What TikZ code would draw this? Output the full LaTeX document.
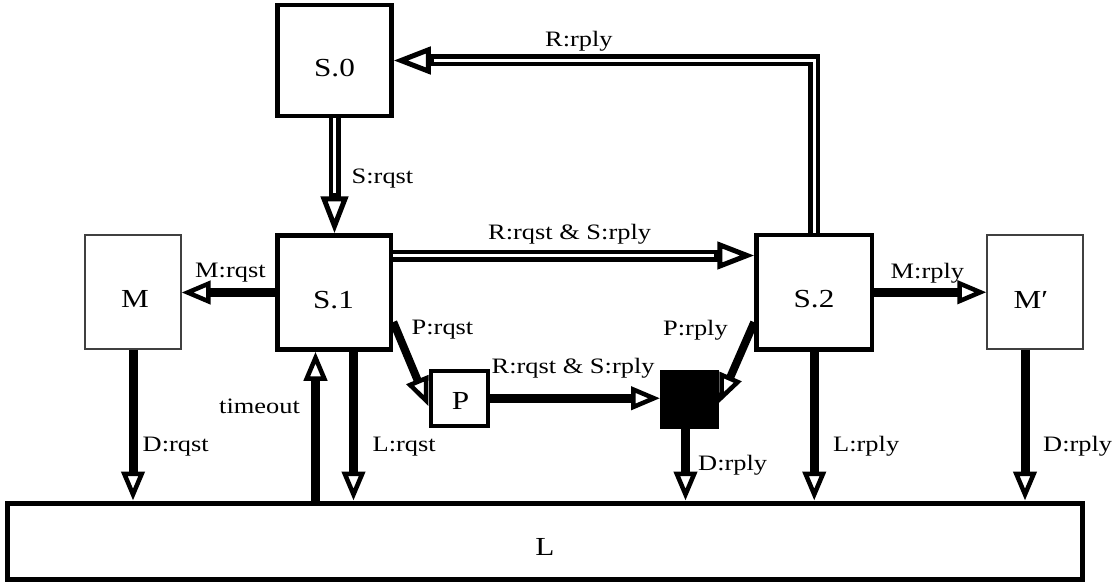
\documentclass[tikz,border=0pt]{standalone}
\usepackage{fontspec}
\setmainfont{Liberation Serif}[FakeStretch=1.2]
\usetikzlibrary{arrows.meta,calc}
\begin{document}
\begin{tikzpicture}[x=1pt,y=-1pt,
  sbox/.style={draw, line width=4.5pt, inner sep=0pt},
  tbox/.style={draw=black!75, line width=1.2pt, inner sep=0pt},
  thk/.style={line width=9pt, -{Triangle[fill=white, line width=4.5pt 0, length=29pt 0, width=23pt 0]}},
  dbl/.style={line width=12pt, line join=miter, -{Triangle[fill=white, line width=5pt 0, length=37pt 0, width=27pt 0]}},
  dblcore/.style={draw=white, line width=3.4pt, line join=miter, shorten >=40pt},
  lbl/.style={inner sep=0pt, anchor=base west, font=\fontsize{22}{24}\selectfont},
  boxlbl/.style={inner sep=0pt, anchor=base, font=\fontsize{26}{28}\selectfont}
]
\useasboundingbox (0,0) rectangle (1119,583);

% boxes
\node[sbox, minimum width=114pt, minimum height=111pt] (s0) at (334.5,60.5) {};
\node[sbox, minimum width=113.5pt, minimum height=114pt] (s1) at (334.25,292.5) {};
\node[sbox, minimum width=115.5pt, minimum height=114.5pt] (s2) at (814.25,292.25) {};
\node[tbox, minimum width=96pt, minimum height=114pt] (m) at (133,292) {};
\node[tbox, minimum width=96pt, minimum height=114pt] (mp) at (1035,292) {};
\node[sbox, line width=4pt, minimum width=57.5pt, minimum height=55.5pt] (p) at (459.25,398.25) {};
\node[draw, fill=black, line width=4pt, inner sep=0pt, minimum width=55pt, minimum height=55pt] (b) at (689.5,399.5) {};
\node[draw, line width=5pt, inner sep=0pt, minimum width=1074.5pt, minimum height=76.5pt] (L) at (544.75,541.25) {};

% box labels
\node[boxlbl] (s0t) at (334.5,77) {S.0};
\node[boxlbl] (s1t) at (333.5,308) {S.1};
\node[boxlbl] (s2t) at (814,307) {S.2};
\node[boxlbl] (mt) at (135,307) {M};
\node[boxlbl] (mpt) at (1031,308) {M′};
\node[boxlbl] (pt) at (460.5,409) {P};
\node[boxlbl] (Lt) at (545,555) {L};

% helper coordinates
\coordinate (r1) at ([yshift=37pt]s1.east);
\coordinate (t1) at ([xshift=-18.75pt]s1.south);
\coordinate (l1) at ([xshift=19.25pt]s1.south);
\coordinate (pq) at ([yshift=-29.5pt]s1.east);
\coordinate (pe) at ([yshift=-8pt]p.west);
\coordinate (pr) at ([yshift=-30pt]s2.west);
\coordinate (be) at ([yshift=-3.5pt]b.east);
\coordinate (bd) at ([xshift=-4pt]b.south);
\coordinate (md) at ([xshift=-10pt]mp.south);

% double connectors
\draw[dbl] (s0.south) -- (s0.south |- s1.north);
\draw[dblcore] (s0.south) -- (s0.south |- s1.north);
\draw[dbl] (s2.north) |- (s0.east);
\draw[dblcore] (s2.north) |- (s0.east);
\draw[dbl] (r1) -- (r1 -| s2.west);
\draw[dblcore] (r1) -- (r1 -| s2.west);

% thick connectors
\draw[thk] (s1.west) -- (s1.west -| m.east);
\draw[thk] (s2.east) -- (s2.east -| mp.west);
\draw[thk] (m.south) -- (m.south |- L.north);
\draw[thk] (t1 |- L.north) -- (t1);
\draw[thk] (l1) -- (l1 |- L.north);
\draw[thk, line width=8pt] (pq) -- (pe);
\draw[thk] (p.east) -- (p.east -| b.west);
\draw[thk, line width=8pt] (pr) -- (be);
\draw[thk] (bd) -- (bd |- L.north);
\draw[thk] (s2.south) -- (s2.south |- L.north);
\draw[thk] (md) -- (md |- L.north);

% connector labels
\node[lbl] (la) at (351.5,183) {S:rqst};
\node[lbl] (lb) at (545,47) {R:rply};
\node[lbl] (lc) at (488,239) {R:rqst \& S:rply};
\node[lbl] (ld) at (195,277) {M:rqst};
\node[lbl] (le) at (219,413) {timeout};
\node[lbl] (lf) at (142.5,451) {D:rqst};
\node[lbl] (lg) at (372.5,451) {L:rqst};
\node[lbl] (lh) at (411.5,334) {P:rqst};
\node[lbl] (li) at (663,335) {P:rply};
\node[lbl] (lj) at (491.5,373) {R:rqst \& S:rply};
\node[lbl] (lk) at (698,470) {D:rply};
\node[lbl] (ll) at (890.5,278) {M:rply};
\node[lbl] (lm) at (833,451) {L:rply};
\node[lbl] (ln) at (1043,451) {D:rply};
\end{tikzpicture}
\end{document}
